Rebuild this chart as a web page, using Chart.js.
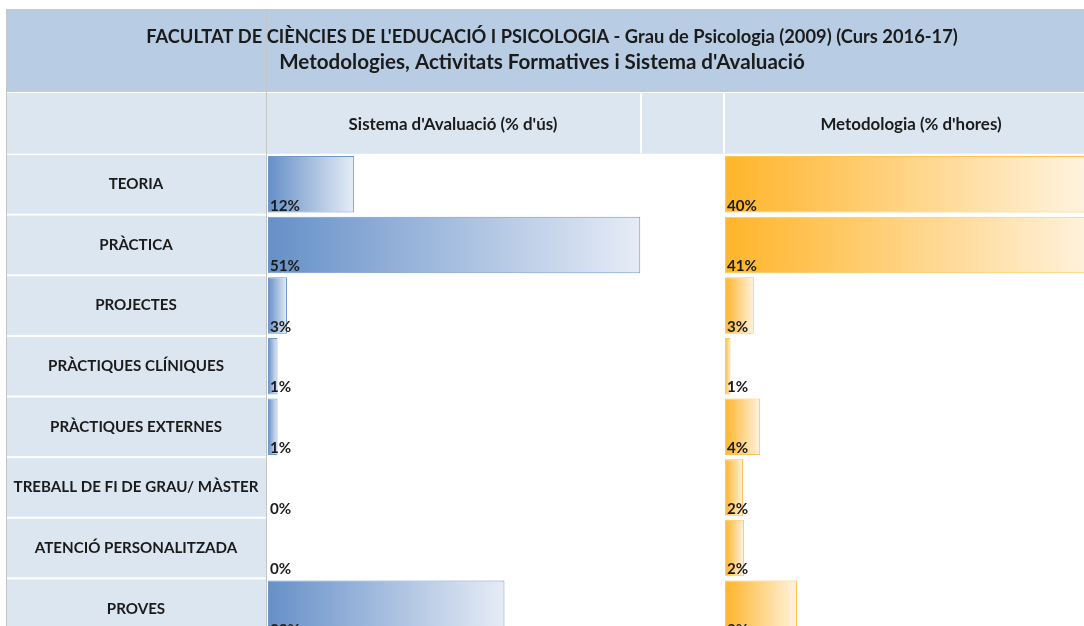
<!DOCTYPE html>
<html lang="ca">
<head>
<meta charset="UTF-8">
<title>Metodologies, Activitats Formatives i Sistema d'Avaluació</title>
<script src="https://cdn.jsdelivr.net/npm/chart.js"></script>
<style>
    html, body { margin: 0; padding: 0; background: #ffffff; overflow: hidden; }
    #wrap { width: 1084px; height: 640px; }
</style>
</head>
<body>
<div id="wrap"><canvas id="chart" width="1084" height="640"></canvas></div>
<script>
// data
const categories = ['TEORIA', 'PRÀCTICA', 'PROJECTES', 'PRÀCTIQUES CLÍNIQUES', 'PRÀCTIQUES EXTERNES',
    'TREBALL DE FI DE GRAU/ MÀSTER', 'ATENCIÓ PERSONALITZADA', 'PROVES'];
const avaluacio = [11.8, 51.0, 2.6, 1.3, 1.3, 0, 0, 32.4];     // % d'ús
const metodologia = [40.2, 41.1, 3.2, 0.6, 3.9, 2.0, 2.1, 8.0]; // % d'hores
const titleLines = [
    "FACULTAT DE CIÈNCIES DE L'EDUCACIÓ I PSICOLOGIA - Grau de Psicologia (2009) (Curs 2016-17)",
    "Metodologies, Activitats Formatives i Sistema d'Avaluació"
];
const columnTitles = ["Sistema d'Avaluació (% d'ús)", "Metodologia (% d'hores)"];

const FONT = 'Lato, "Open Sans", sans-serif';
const TEXT = '#1b1b1b';

// find a bold font size so that text is about `w` px wide
function fitSize(ctx, text, w) {
    ctx.font = 'bold 20px ' + FONT;
    return 20 * w / ctx.measureText(text).width;
}

function barGradient(c0, c1, axisId) {
    return function (ctx) {
        const sc = ctx.chart.scales[axisId];
        if (!sc || ctx.type !== 'data') return c0;
        const x0 = sc.getPixelForValue(0);
        const x1 = sc.getPixelForValue(ctx.raw);
        if (!isFinite(x0) || !isFinite(x1) || x1 - x0 < 1) return c0;
        const g = ctx.chart.ctx.createLinearGradient(x0, 0, x1, 0);
        g.addColorStop(0, c0);
        g.addColorStop(1, c1);
        return g;
    };
}

// spreadsheet frame: header bands, label column, texts
const sheetPlugin = {
    id: 'sheet',
    beforeDraw(chart) {
        const c = chart.ctx;
        const y = chart.scales.y;
        const area = chart.chartArea;
        const W = chart.width;
        const rowH = (area.bottom - area.top) / categories.length;

        c.save();
        c.fillStyle = '#ffffff';
        c.fillRect(0, 0, W, chart.height);

        // title band
        c.fillStyle = '#b8cce4';
        c.fillRect(7, 9, W - 7, 83);
        // column header band
        c.fillStyle = '#dce6f1';
        c.fillRect(7, 93, W - 7, 60);
        c.fillStyle = '#ffffff';
        c.fillRect(640, 93, 2, 60);
        c.fillRect(723, 93, 2, 60);

        // label column
        c.fillStyle = '#dce6f1';
        c.fillRect(7, area.top, 259, chart.height - area.top);
        c.fillStyle = '#ffffff';
        for (let i = 0; i <= categories.length; i++) {
            c.fillRect(7, area.top + i * rowH - 1, 259, 2);
        }
        c.fillStyle = '#e3ebf4';
        c.fillRect(7, area.top - 1, W - 7, 1);

        // borders
        c.fillStyle = '#c4c7ca';
        c.fillRect(6, 9, 1, chart.height);
        c.fillRect(266, 9, 1, chart.height);

        // titles
        c.fillStyle = TEXT;
        c.textBaseline = 'middle';
        c.textAlign = 'center';
        c.font = 'bold ' + fitSize(c, titleLines[0], 812) + 'px ' + FONT;
        c.fillText(titleLines[0], 552, 37);
        c.font = 'bold ' + fitSize(c, titleLines[1], 526) + 'px ' + FONT;
        c.fillText(titleLines[1], 542, 62);

        const hs = fitSize(c, columnTitles[0], 209);
        c.font = 'bold ' + hs + 'px ' + FONT;
        c.fillText(columnTitles[0], 453, 125);
        c.fillText(columnTitles[1], 911, 125);

        // row labels
        const rs = fitSize(c, categories[5], 245);
        c.font = 'bold ' + rs + 'px ' + FONT;
        categories.forEach((lab, i) => {
            c.fillText(lab, 136, y.getPixelForValue(i));
        });
        c.restore();
    },
    afterDatasetsDraw(chart) {
        const c = chart.ctx;
        c.save();
        c.fillStyle = TEXT;
        c.textAlign = 'left';
        c.textBaseline = 'alphabetic';
        c.font = 'bold ' + fitSize(c, '12%', 30) + 'px ' + FONT;
        chart.data.datasets.forEach((ds, di) => {
            chart.getDatasetMeta(di).data.forEach((el, i) => {
                const bottom = el.y + el.height / 2;
                c.fillText(Math.round(ds.data[i]) + '%', el.base + 2, bottom - 2);
            });
        });
        c.restore();
    }
};

new Chart(document.getElementById('chart'), {
    type: 'bar',
    data: {
        labels: categories,
        datasets: [{
            label: columnTitles[0],
            data: avaluacio,
            xAxisID: 'x',
            backgroundColor: barGradient('#6690c8', '#e6ecf6', 'x'),
            borderColor: '#7198cc',
            borderWidth: ctx => (ctx.raw > 0 ? 1 : 0),
            borderSkipped: false
        }, {
            label: columnTitles[1],
            data: metodologia,
            xAxisID: 'x2',
            backgroundColor: barGradient('#ffb52a', '#fff3e0', 'x2'),
            borderColor: '#ffc54f',
            borderWidth: ctx => (ctx.raw > 0 ? 1 : 0),
            borderSkipped: false
        }]
    },
    options: {
        indexAxis: 'y',
        responsive: false,
        animation: false,
        grouped: false,
        categoryPercentage: 1,
        barPercentage: 0.93,
        layout: { padding: { left: 268, top: 154, right: 0, bottom: 1 } },
        plugins: {
            legend: { display: false },
            tooltip: { enabled: false }
        },
        scales: {
            y: { type: 'category', display: false, offset: true },
            x: { type: 'linear', display: false, min: 0, max: 111.8 },
            x2: { type: 'linear', display: false, min: -50.8, max: 39.9 }
        }
    },
    plugins: [sheetPlugin]
});
</script>
</body>
</html>
